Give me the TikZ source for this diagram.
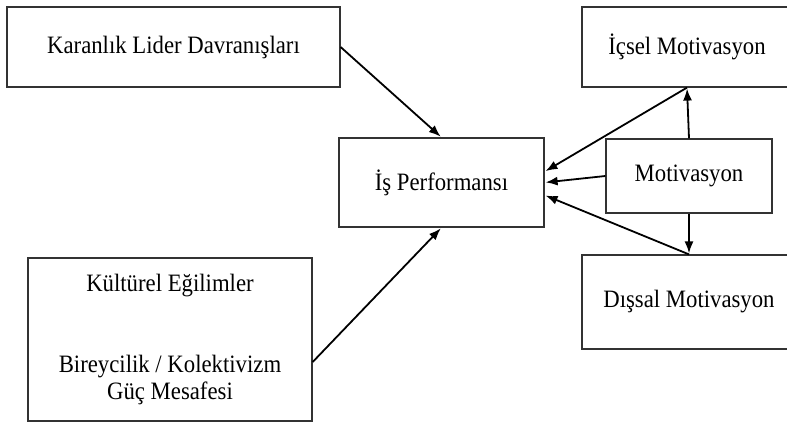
\documentclass[tikz,border=0pt]{standalone}
\usepackage{fontspec}
\setmainfont[FakeStretch=0.91]{Liberation Serif}
\usetikzlibrary{arrows.meta}

\tikzset{
  kutu/.style={draw=black!80, line width=1.2pt, rectangle, inner sep=0pt,
    align=center, font=\fontsize{25}{27}\selectfont},
  ok/.style={-{Latex[length=12pt,width=9pt]}, line width=1.8pt, shorten >=1pt}
}

\begin{document}
\begin{tikzpicture}[x=1pt,y=-1pt]
              \useasboundingbox (0,0) rectangle (787,422);
              \clip (0,0) rectangle (787,422);
              \draw (173.5,47) node[kutu, minimum width=333pt, minimum height=80pt] (kld) {Karanlık Lider Davranışları};
              \draw (441.5,182.5) node[kutu, minimum width=205pt, minimum height=89pt] (isp) {İş Performansı};
              \draw (689,176) node[kutu, minimum width=166pt, minimum height=74pt] (mot) {Motivasyon};
              \draw (687,47) node[kutu, minimum width=210pt, minimum height=80pt] (icm) {İçsel Motivasyon};
              \draw (689,302) node[kutu, minimum width=214pt, minimum height=94pt] (dim) {Dışsal Motivasyon};
              \draw (170,339.5) node[kutu, minimum width=284pt, minimum height=163pt] (kul)
                {Kültürel Eğilimler\\[54pt]Bireycilik / Kolektivizm\\Güç Mesafesi};

              \draw[ok] (kld.east)--(isp.north);
              \draw[ok] (kul.-9)--(isp.south);

              \draw[ok] (icm.south)--(isp.6);
              \draw[ok] (mot.west)--(isp.east);
              \draw[ok] (dim.north)--(isp.-7);

              \draw[ok] (mot.north)--(icm.south);
              \draw[ok] (mot.south)--(dim.north);
            \end{tikzpicture}
\end{document}
